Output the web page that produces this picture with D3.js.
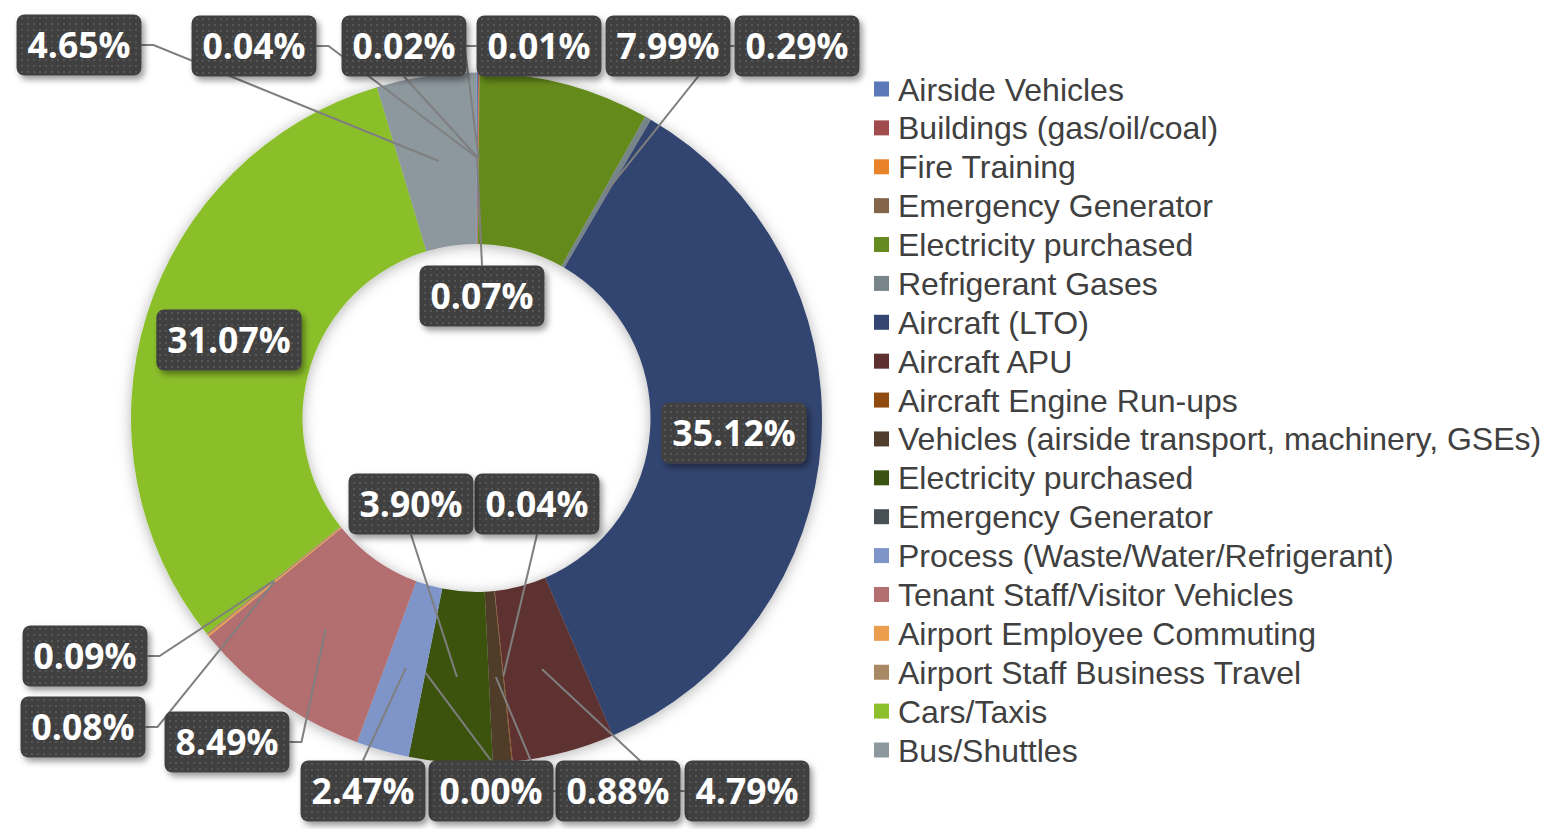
<!DOCTYPE html>
<html>
<head>
<meta charset="utf-8">
<script src="https://cdn.jsdelivr.net/npm/d3@7"></script>
<style>
  body { margin: 0; background: #fff; }
  svg { display: block; }
</style>
</head>
<body>
<div id="chart"></div>
<script>
// data, in clockwise order from 12 o'clock
const categories = [
  "Airside Vehicles", "Buildings (gas/oil/coal)", "Fire Training", "Emergency Generator",
  "Electricity purchased", "Refrigerant Gases", "Aircraft (LTO)", "Aircraft APU",
  "Aircraft Engine Run-ups", "Vehicles (airside transport, machinery, GSEs)",
  "Electricity purchased", "Emergency Generator", "Process (Waste/Water/Refrigerant)",
  "Tenant Staff/Visitor Vehicles", "Airport Employee Commuting", "Airport Staff Business Travel",
  "Cars/Taxis", "Bus/Shuttles"
];
const values = [0.07, 0.04, 0.02, 0.01, 7.99, 0.29, 35.12, 4.79, 0.04, 0.88,
                3.90, 0.00, 2.47, 8.49, 0.08, 0.09, 31.07, 4.65];
const colors = [
  "#5b78b8", "#a14b4d", "#e8832a", "#846549", "#658a1f", "#77848a", "#334570", "#5e3030",
  "#8f4b10", "#503d2b", "#3a5310", "#475055", "#7f95c9", "#b36e6f", "#ec9c4d", "#a98864",
  "#8bbf2c", "#8d979e"
];
// where each data label box sits (centre) and which side its leader line attaches to
const labelSpots = [
  [482, 296, "t"], [254, 46, "r"], [404, 46, "b"], [539, 46, "l"],
  [668, 46, ""],   [797, 46, "l"], [734, 433, ""], [747, 791, "l"],
  [537, 504, "b"], [618, 791, "l"], [411, 504, "b"], [491, 791, "t"],
  [363, 791, "t"], [227, 742, "r"], [83, 727, "r"], [85, 656, "r"],
  [229, 340, ""],  [79, 45, "r"]
];

const width = 1547, height = 829;
const cx = 476.5, cy = 418, outerR = 345.5, innerR = 174;

const svg = d3.select("#chart").append("svg")
  .attr("width", width)
  .attr("height", height);

const defs = svg.append("defs");

defs.append("filter").attr("id", "ringShadow")
  .attr("x", "-20%").attr("y", "-20%").attr("width", "140%").attr("height", "140%")
  .append("feDropShadow")
  .attr("dx", 0).attr("dy", 2).attr("stdDeviation", 7)
  .attr("flood-color", "#000").attr("flood-opacity", 0.3);

defs.append("filter").attr("id", "boxShadow")
  .attr("x", "-20%").attr("y", "-30%").attr("width", "150%").attr("height", "170%")
  .append("feDropShadow")
  .attr("dx", 3).attr("dy", 4).attr("stdDeviation", 3)
  .attr("flood-color", "#000").attr("flood-opacity", 0.4);

let dots = defs.append("pattern").attr("id", "dots")
  .attr("patternUnits", "userSpaceOnUse")
  .attr("width", 6).attr("height", 6);
dots.append("rect").attr("width", 6).attr("height", 6).attr("fill", "#3f3f3f");
dots.append("rect").attr("x", 2).attr("y", 2).attr("width", 2).attr("height", 2).attr("fill", "#565656");

const slices = d3.pie()
  .sort(null)
  .value(d => d.value)(values.map((v, i) => ({ name: categories[i], value: v, i: i })));

const arc = d3.arc().innerRadius(innerR).outerRadius(outerR);

let ring = svg.append("g")
  .attr("transform", `translate(${cx},${cy})`)
  .attr("filter", "url(#ringShadow)");

ring.selectAll("path")
  .data(slices)
  .join("path")
  .attr("d", arc)
  .attr("fill", d => colors[d.data.i]);

// leader lines from slice centroid to label box
const boxH = 61;
let labels = svg.append("g");

let leaders = labels.append("g");
let boxes = labels.append("g");

slices.forEach(d => {
  const spot = labelSpots[d.data.i];
  const g = boxes.append("g").attr("transform", `translate(${spot[0]},${spot[1]})`);
  const txt = g.append("text")
    .text(d.data.value.toFixed(2) + "%")
    .attr("text-anchor", "middle")
    .attr("dy", "0.36em")
    .style("font-family", "'Open Sans', sans-serif")
    .style("font-weight", 700)
    .style("font-size", "35.5px")
    .attr("fill", "#fff");
  const w = txt.node().getComputedTextLength() + 22;
  g.insert("rect", "text")
    .attr("x", -w / 2).attr("y", -boxH / 2)
    .attr("width", w).attr("height", boxH)
    .attr("rx", 8)
    .attr("fill", "url(#dots)")
    .attr("filter", "url(#boxShadow)");

  if (!spot[2]) return;
  const c = arc.centroid(d);
  const px = cx + c[0], py = cy + c[1];
  let pts;
  if (spot[2] == "l") {
    pts = [[px, py], [spot[0] - w / 2 - 12, spot[1]], [spot[0] - w / 2, spot[1]]];
  } else if (spot[2] == "r") {
    pts = [[px, py], [spot[0] + w / 2 + 12, spot[1]], [spot[0] + w / 2, spot[1]]];
  } else if (spot[2] == "t") {
    pts = [[px, py], [spot[0], spot[1] - boxH / 2]];
  } else {
    pts = [[px, py], [spot[0], spot[1] + boxH / 2]];
  }
  leaders.append("path")
    .attr("d", d3.line()(pts))
    .attr("fill", "none")
    .attr("stroke", "#7f7f7f")
    .attr("stroke-width", 2);
});

// legend
let rowY = d3.scalePoint()
  .domain(d3.range(categories.length))
  .range([89, 750]);

let legend = svg.append("g");
let rows = legend.selectAll("g")
  .data(categories)
  .join("g")
  .attr("transform", (d, i) => `translate(874,${rowY(i)})`);

rows.append("rect")
  .attr("x", 0).attr("y", -7.5)
  .attr("width", 15).attr("height", 15)
  .attr("fill", (d, i) => colors[i]);

rows.append("text")
  .text(d => d)
  .attr("x", 24)
  .attr("dy", "0.36em")
  .style("font-family", "'Liberation Sans', Arial, sans-serif")
  .style("font-size", "32px")
  .attr("fill", "#404040");
</script>
</body>
</html>
